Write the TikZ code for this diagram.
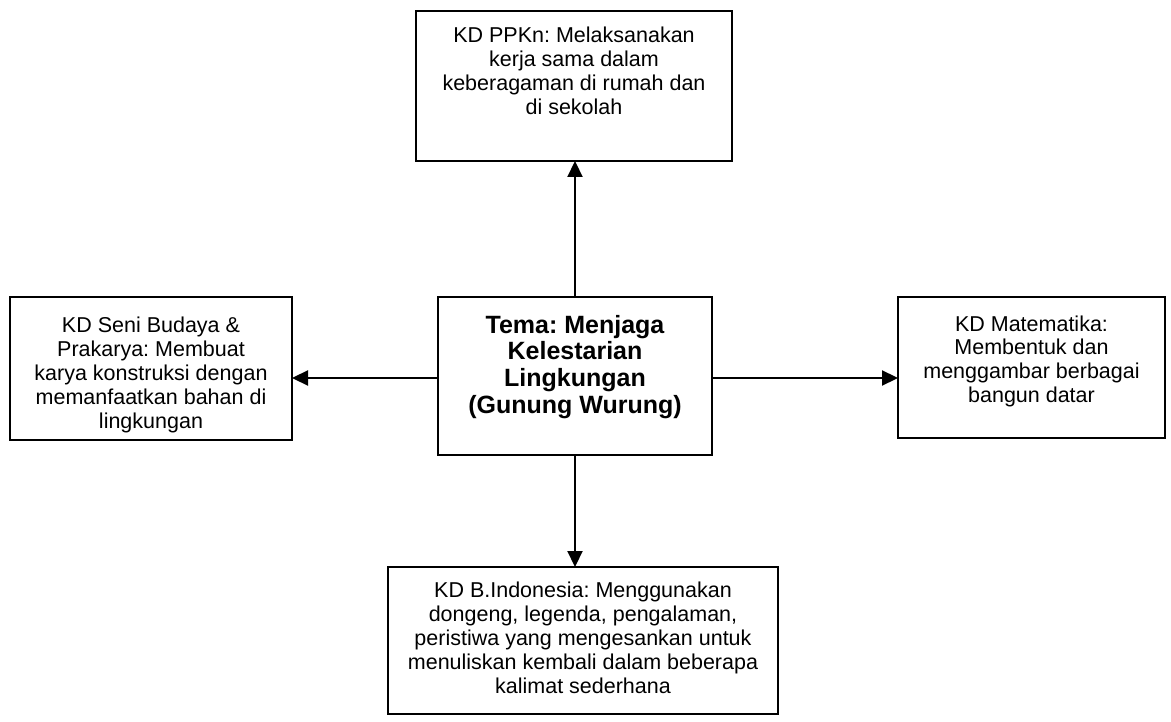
\documentclass[tikz,border=0pt]{standalone}
\usepackage{fontspec}
\setmainfont{Liberation Sans}
\usetikzlibrary{arrows.meta}
\frenchspacing
\newcommand{\boxcontent}[4]{\parbox[c][#2][t]{#1}{\centering\fontsize{21.5}{24}\selectfont\rule{0pt}{#3}#4\par}}
\newcommand{\boldcontent}[4]{\parbox[c][#2][t]{#1}{\centering\fontsize{25}{26.7}\selectfont\bfseries\rule{0pt}{#3}#4\par}}
\tikzset{
  kdbox/.style={draw=black, line width=1.8pt, inner sep=0pt, outer sep=0pt, anchor=north west},
  conn/.style={line width=2.2pt, -{Triangle[length=16pt,width=15pt]}}
}
\begin{document}
\begin{tikzpicture}[x=1pt,y=-1pt]
\useasboundingbox (0,0) rectangle (1171,722);
\node[kdbox] (top) at (416,11) {\boxcontent{316pt}{150pt}{32pt}{KD PPKn: Melaksanakan\\ kerja sama dalam\\ keberagaman di rumah dan\\ di sekolah}};
\node[kdbox] (lft) at (10,297) {\boxcontent{282pt}{143pt}{35pt}{KD Seni Budaya \&\\ Prakarya: Membuat\\ karya konstruksi dengan\\ memanfaatkan bahan di\\ lingkungan}};
\node[kdbox] (cen) at (438,297) {\boldcontent{274pt}{158pt}{36pt}{Tema: Menjaga\\ Kelestarian\\ Lingkungan\\ (Gunung Wurung)}};
\node[kdbox] (rgt) at (898,297) {\boxcontent{267pt}{141pt}{34pt}{KD Matematika:\\ Membentuk dan\\ menggambar berbagai\\ bangun datar}};
\node[kdbox] (bot) at (388,567) {\boxcontent{390pt}{147pt}{30pt}{KD B.Indonesia: Menggunakan\\ dongeng, legenda, pengalaman,\\ peristiwa yang mengesankan untuk\\ menuliskan kembali dalam beberapa\\ kalimat sederhana}};
\draw[conn] (cen.north) -- (cen.north |- top.south);
\draw[conn] (cen.south) -- (cen.south |- bot.north);
\draw[conn] ([yshift=-2pt]cen.west) -- ([yshift=-2pt]cen.west -| lft.east);
\draw[conn] ([yshift=-2pt]cen.east) -- ([yshift=-2pt]cen.east -| rgt.west);
\end{tikzpicture}
\end{document}
